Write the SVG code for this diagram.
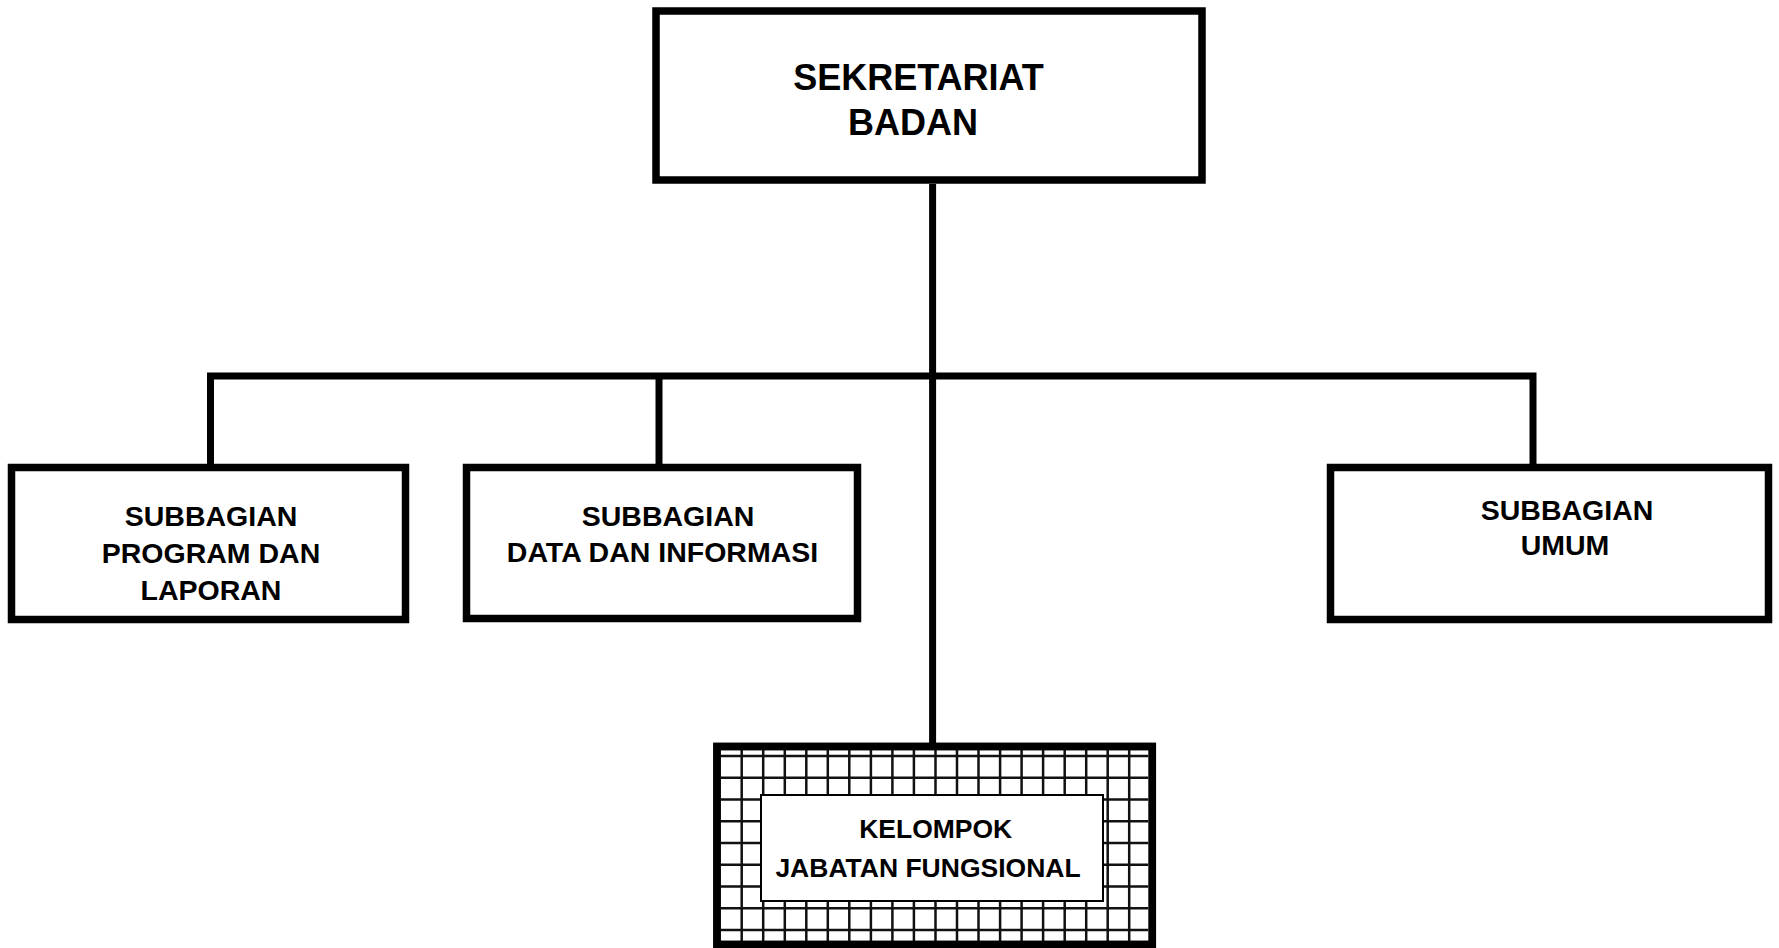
<svg xmlns="http://www.w3.org/2000/svg" width="1779" height="948" viewBox="0 0 1779 948">
<style>
.box{fill:#fff;stroke:#000;stroke-width:7.5}
.line{fill:none;stroke:#000;stroke-width:7}
.grid{fill:none;stroke:#111;stroke-width:2.5}
.inner{fill:#fff;stroke:#000;stroke-width:2}
text{font-family:"Liberation Sans",Arial,sans-serif;font-weight:bold;fill:#000;text-anchor:middle}
.t1{font-size:36px}
.t2{font-size:28.5px}
.t3{font-size:26.5px}
</style>
<rect width="1779" height="948" fill="#fff"/>
<g id="connectors">
<path class="line" d="M932.6 184 V743"/>
<path class="line" d="M210.5 464 V376 H1533 V464"/>
<path class="line" d="M659 376 V464"/>
</g>
<g id="sekretariat">
<rect class="box" x="656" y="11" width="546" height="169"/>
<text class="t1" x="918.5" y="90">SEKRETARIAT</text>
<text class="t1" x="913" y="135">BADAN</text>
</g>
<g id="program">
<rect class="box" x="11.5" y="467.5" width="394" height="152"/>
<text class="t2" x="211" y="526">SUBBAGIAN</text>
<text class="t2" x="211" y="563">PROGRAM DAN</text>
<text class="t2" x="211" y="600">LAPORAN</text>
</g>
<g id="data">
<rect class="box" x="466.5" y="467.5" width="391" height="151"/>
<text class="t2" x="668" y="526">SUBBAGIAN</text>
<text class="t2" x="662.5" y="562">DATA DAN INFORMASI</text>
</g>
<g id="umum">
<rect class="box" x="1330.5" y="467.5" width="438" height="152"/>
<text class="t2" x="1567" y="520">SUBBAGIAN</text>
<text class="t2" x="1565" y="555">UMUM</text>
</g>
<g id="fungsional">
<rect class="box" x="717" y="746.5" width="435.3" height="198"/>
<path class="grid" d="M741.7 750V941M763.2 750V941M784.8 750V941M806.3 750V941M827.8 750V941M849.3 750V941M870.9 750V941M892.4 750V941M913.9 750V941M935.5 750V941M957 750V941M978.5 750V941M1000.1 750V941M1021.6 750V941M1043.1 750V941M1064.7 750V941M1086.2 750V941M1107.7 750V941M1129.2 750V941M720.7 756H1148.3M720.7 777.75H1148.3M720.7 799.5H1148.3M720.7 821.25H1148.3M720.7 843H1148.3M720.7 864.75H1148.3M720.7 886.5H1148.3M720.7 908.25H1148.3M720.7 930H1148.3"/>
<rect class="box" x="717" y="746.5" width="435.3" height="198" style="fill:none"/>
<rect class="inner" x="761" y="795" width="342" height="106"/>
<text class="t3" x="935.7" y="838">KELOMPOK</text>
<text class="t3" x="928" y="876.7">JABATAN FUNGSIONAL</text>
</g>
</svg>
